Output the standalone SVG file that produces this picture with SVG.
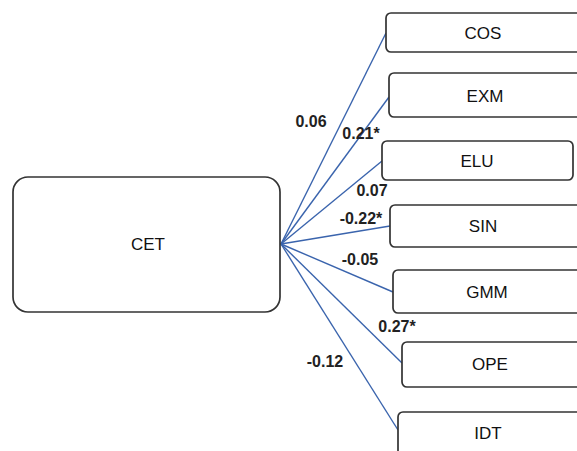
<svg xmlns="http://www.w3.org/2000/svg" width="577" height="451" viewBox="0 0 577 451">
<style>
.box{fill:#fff;stroke:#333;stroke-width:1.7}
.lbl{font-family:"Liberation Sans",Arial,sans-serif;font-size:17px;fill:#111;text-anchor:middle;dominant-baseline:central}
.el{font-family:"Liberation Sans",Arial,sans-serif;font-size:16px;font-weight:bold;fill:#222;text-anchor:middle;dominant-baseline:central}
.cn{stroke:#3a64ad;stroke-width:1.4;fill:none}
</style>
<rect width="577" height="451" fill="#fff"/>
<g id="connectors">
<line class="cn" x1="281" y1="244" x2="386" y2="33"/>
<line class="cn" x1="281" y1="244" x2="389" y2="97"/>
<line class="cn" x1="281" y1="244" x2="382" y2="161"/>
<line class="cn" x1="281" y1="244" x2="390" y2="226"/>
<line class="cn" x1="281" y1="244" x2="393" y2="292"/>
<line class="cn" x1="281" y1="244" x2="402" y2="363"/>
<line class="cn" x1="281" y1="244" x2="398" y2="430"/>
<text class="el" x="311" y="121">0.06</text>
<text class="el" x="361" y="133">0.21*</text>
<text class="el" x="372" y="190">0.07</text>
<text class="el" x="361" y="218">-0.22*</text>
<text class="el" x="360" y="259">-0.05</text>
<text class="el" x="397" y="326">0.27*</text>
<text class="el" x="325" y="361">-0.12</text>
</g>
<g id="CET"><rect class="box" x="13" y="177" width="267" height="135" rx="15"/><text class="lbl" x="148" y="244">CET</text></g>
<g id="COS"><rect class="box" x="386" y="13" width="200" height="39" rx="5"/><text class="lbl" x="483" y="33">COS</text></g>
<g id="EXM"><rect class="box" x="389" y="73" width="200" height="44" rx="5"/><text class="lbl" x="485" y="96">EXM</text></g>
<g id="ELU"><rect class="box" x="382" y="141" width="191" height="39" rx="5"/><text class="lbl" x="477" y="161">ELU</text></g>
<g id="SIN"><rect class="box" x="390" y="205" width="200" height="42" rx="5"/><text class="lbl" x="483" y="226">SIN</text></g>
<g id="GMM"><rect class="box" x="393" y="270" width="200" height="43" rx="5"/><text class="lbl" x="487" y="292">GMM</text></g>
<g id="OPE"><rect class="box" x="402" y="342" width="200" height="45" rx="5"/><text class="lbl" x="490" y="364">OPE</text></g>
<g id="IDT"><rect class="box" x="398" y="412" width="200" height="50" rx="5"/><text class="lbl" x="488" y="433">IDT</text></g>
</svg>
